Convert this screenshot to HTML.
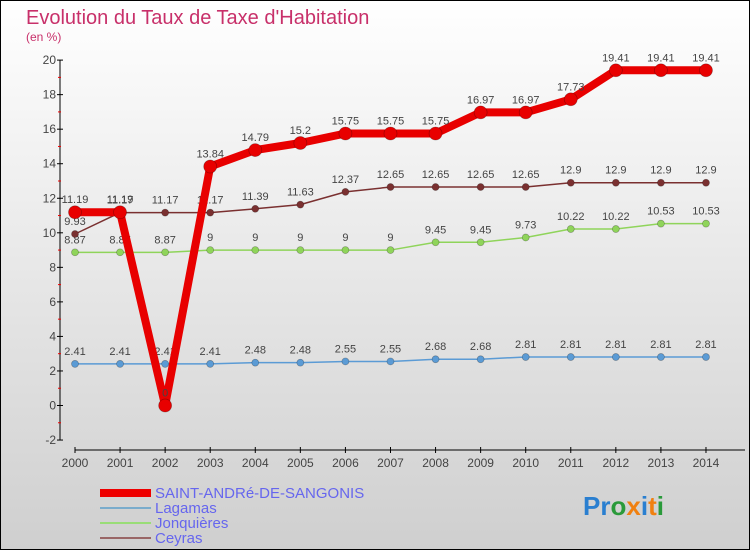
<!DOCTYPE html>
<html><head><meta charset="utf-8"><style>
html,body{margin:0;padding:0}
body{width:750px;height:550px;overflow:hidden;font-family:"Liberation Sans",sans-serif}
</style></head><body>
<svg id="chart" width="750" height="550" xmlns="http://www.w3.org/2000/svg">
<defs><linearGradient id="bg" x1="0" y1="0" x2="0" y2="1"><stop offset="0" stop-color="#ffffff"/><stop offset="1" stop-color="#cfcfcf"/></linearGradient></defs>
<rect x="0.5" y="0.5" width="749" height="549" fill="url(#bg)" stroke="#000"/>
<text x="26" y="24" font-size="20" fill="#c8306a">Evolution du Taux de Taxe d'Habitation</text>
<text x="26" y="41" font-size="12" fill="#c8306a">(en %)</text>
<g id="axes"></g>
<g id="series"></g>
<g id="legend">
<rect x="100" y="489" width="51" height="8" fill="#e00"/>
<text x="155" y="498" font-size="15" fill="#6666ee">SAINT-ANDRé-DE-SANGONIS</text>
<rect x="100" y="507" width="51" height="2" fill="#7aaccc"/>
<text x="155" y="513" font-size="15" fill="#6666ee">Lagamas</text>
<rect x="100" y="522" width="51" height="2" fill="#99dd77"/>
<text x="155" y="528" font-size="15" fill="#6666ee">Jonquières</text>
<rect x="100" y="537" width="51" height="2" fill="#996666"/>
<text x="155" y="543" font-size="15" fill="#6666ee">Ceyras</text>
</g>
<text x="583" y="515" font-size="26" font-weight="bold"><tspan fill="#2a7fd0">Pr</tspan><tspan fill="#2a9a3a">o</tspan><tspan fill="#f08010">x</tspan><tspan fill="#2a7fd0">i</tspan><tspan fill="#f08010">t</tspan><tspan fill="#2a9a3a">i</tspan></text>
</svg>
<script>
const years=[2000,2001,2002,2003,2004,2005,2006,2007,2008,2009,2010,2011,2012,2013,2014];
const yTicks=[-2,0,2,4,6,8,10,12,14,16,18,20];
const saintAndre=[11.19,11.19,0,13.84,14.79,15.2,15.75,15.75,15.75,16.97,16.97,17.73,19.41,19.41,19.41];
const lagamas=[2.41,2.41,2.41,2.41,2.48,2.48,2.55,2.55,2.68,2.68,2.81,2.81,2.81,2.81,2.81];
const jonquieres=[8.87,8.87,8.87,9,9,9,9,9,9.45,9.45,9.73,10.22,10.22,10.53,10.53];
const ceyras=[9.93,11.17,11.17,11.17,11.39,11.63,12.37,12.65,12.65,12.65,12.65,12.9,12.9,12.9,12.9];
const NS="http://www.w3.org/2000/svg";
function X(i){return 75+i*45.07;}
function Y(v){return 405.5-v*17.27;}
function mk(t,a,p){const e=document.createElementNS(NS,t);for(const k in a)e.setAttribute(k,a[k]);p.appendChild(e);return e;}
const ax=document.getElementById('axes');
let yl=mk('line',{x1:60,y1:Y(20),x2:60,y2:Y(-2),stroke:'#000','stroke-width':1},ax);


let xl=mk('line',{x1:75,y1:450,x2:745,y2:450,stroke:'#000','stroke-width':1},ax);


yTicks.forEach(v=>{
 mk('line',{x1:57,y1:Y(v),x2:63,y2:Y(v),stroke:'#000'},ax);
 if(v<20) mk('line',{x1:58,y1:Y(v+1),x2:61,y2:Y(v+1),stroke:'#e00'},ax);
 const t=mk('text',{x:56,y:Y(v)+4,'font-size':12,fill:'#444','text-anchor':'end'},ax);
 t.textContent=v;
 
 
});
years.forEach((yr,i)=>{
 mk('line',{x1:X(i),y1:447,x2:X(i),y2:453,stroke:'#000'},ax);
 const t=mk('text',{x:X(i),y:467,'font-size':12,fill:'#444','text-anchor':'middle'},ax);
 t.textContent=yr;
 
 
});
const sg=document.getElementById('series');
function draw(vals,color,lw,r,name){
 const g=mk('g',{},sg);
 
 
 const pts=vals.map((v,i)=>X(i)+','+Y(v)).join(' ');
 mk('polyline',{points:pts,fill:'none',stroke:color,'stroke-width':lw,'stroke-linejoin':'round'},g);
 vals.forEach((v,i)=>{
  const c=mk('circle',{cx:X(i),cy:Y(v),r:r,fill:color,stroke:'rgba(0,0,0,0.3)','stroke-width':0.7},g);
  
  
  const t=mk('text',{x:X(i),y:Y(v)-9,'font-size':11,fill:'#444','text-anchor':'middle'},g);
  t.textContent=String(v);
  
  
 });
}
draw(lagamas,'#5b9bd5',1.5,3.5,'lagamas');
draw(jonquieres,'#8fd45a',1.5,3.5,'jonquieres');
draw(ceyras,'#7a3030',1.5,3.5,'ceyras');
draw(saintAndre,'#e80000',8,6.5,'saint-andre');
</script>
</body></html>
